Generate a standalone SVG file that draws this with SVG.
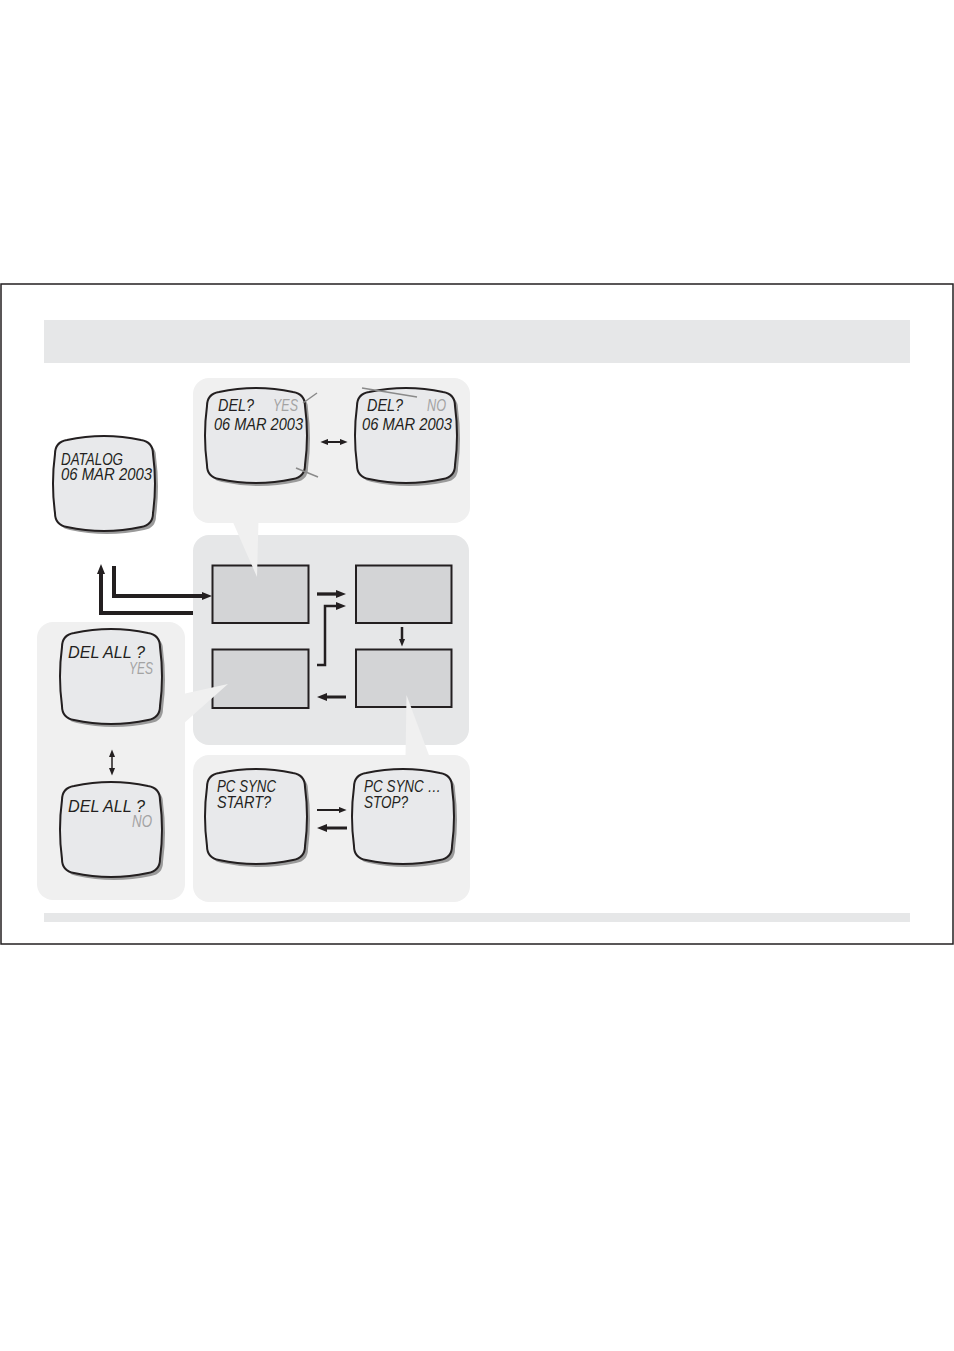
<svg xmlns="http://www.w3.org/2000/svg" xmlns:xlink="http://www.w3.org/1999/xlink" width="954" height="1351" viewBox="0 0 954 1351">
<style>
.frame{fill:none;stroke:#231f20;stroke-width:1.5}
.bar{fill:#e6e7e8}
.pl{fill:#f0f0f0}
.pm{fill:#e6e7e8}
.box{fill:#d3d4d6;stroke:#231f20;stroke-width:2}
.scr{fill:#e8e9eb;stroke:#231f20;stroke-width:2}
.shd{fill:#9a9a9a}
.t{font-family:"Liberation Sans",Arial,sans-serif;font-style:italic;font-size:16px;fill:#231f20}
.g{fill:#a3a3a3}
.mark{stroke:#8a8a8a;stroke-width:1.5;fill:none}
.c{fill:none;stroke:#231f20}
</style>
<defs>
<path id="screen" d="M14,4 Q51,-4 88,4 Q100,6 100,18 Q104,47.5 100,77 Q100,89 88,91 Q51,99 14,91 Q2,89 2,77 Q-2,47.5 2,18 Q2,6 14,4 Z"/>
<marker id="ah" viewBox="0 0 10 8" refX="3" refY="4" markerWidth="10" markerHeight="8" markerUnits="userSpaceOnUse" orient="auto-start-reverse"><path d="M0,0 L10,4 L0,8 Z" fill="#231f20"/></marker>
<marker id="as" viewBox="0 0 10 8" refX="3" refY="4" markerWidth="8" markerHeight="7" markerUnits="userSpaceOnUse" orient="auto-start-reverse"><path d="M0,0 L10,4 L0,8 Z" fill="#231f20"/></marker>
</defs>
<rect width="954" height="1351" fill="#fff"/>
<rect class="frame" x="1" y="284" width="952" height="660"/>
<rect class="bar" x="44" y="320" width="866" height="43"/>
<rect class="bar" x="44" y="913" width="866" height="9"/>

<g id="panels">
<rect class="pl" x="193" y="378" width="277" height="145" rx="16"/>
<rect class="pm" x="193" y="535" width="276" height="210" rx="16"/>
<rect class="pl" x="37" y="622" width="148" height="278" rx="16"/>
<rect class="pl" x="193" y="755" width="277" height="147" rx="16"/>
</g>

<g id="boxes">
<rect id="box1" class="box" x="212.5" y="565.5" width="96" height="57.5"/>
<rect id="box2" class="box" x="356" y="565.5" width="95.5" height="57.5"/>
<rect id="box3" class="box" x="212.5" y="649.5" width="96" height="58.5"/>
<rect id="box4" class="box" x="356" y="649.5" width="95.5" height="57.5"/>
</g>

<g id="pointers">
<polygon class="pl" points="232,520 258.5,520 257,577"/>
<polygon class="pl" points="228,684 183,694 183,724"/>
<polygon class="pl" points="406.5,695 405.5,758 430,758"/>
</g>

<g id="connectors">
<path class="c" stroke-width="4" d="M193,613 H101 V571" marker-end="url(#ah)"/>
<path class="c" stroke-width="4" d="M114,566 V596 H205" marker-end="url(#ah)"/>
<path class="c" stroke-width="3.3" d="M317,594 H339" marker-end="url(#ah)"/>
<path class="c" stroke-width="2.5" d="M317,665 H325 V606 H339" marker-end="url(#ah)"/>
<path class="c" stroke-width="2.5" d="M402,627 V641" marker-end="url(#as)"/>
<path class="c" stroke-width="3" d="M346,697 H324" marker-end="url(#ah)"/>
<path class="c" stroke-width="2" d="M326,442 H342" marker-start="url(#as)" marker-end="url(#as)"/>
<path class="c" stroke-width="1.5" d="M112,755 V770" marker-start="url(#as)" marker-end="url(#as)"/>
<path class="c" stroke-width="2" d="M317,810 H341" marker-end="url(#as)"/>
<path class="c" stroke-width="3" d="M347,828 H324" marker-end="url(#ah)"/>
</g>

<g id="datalog">
<use xlink:href="#screen" class="shd" x="56" y="439"/>
<use xlink:href="#screen" class="scr" x="53" y="436"/>
<text class="t" x="61" y="465" font-size="15" textLength="62" lengthAdjust="spacingAndGlyphs">DATALOG</text>
<text class="t" x="61" y="479.5" font-size="15" textLength="91" lengthAdjust="spacingAndGlyphs">06 MAR 2003</text>
</g>

<g id="del-yes">
<use xlink:href="#screen" class="shd" x="208" y="391"/>
<use xlink:href="#screen" class="scr" x="205" y="388"/>
<text class="t" x="218" y="411" textLength="36" lengthAdjust="spacingAndGlyphs">DEL?</text>
<text class="t g" x="273" y="411" textLength="25" lengthAdjust="spacingAndGlyphs">YES</text>
<text class="t" x="214" y="430" textLength="89" lengthAdjust="spacingAndGlyphs">06 MAR 2003</text>
<line class="mark" x1="303" y1="403" x2="317" y2="393"/>
<line class="mark" x1="296" y1="468" x2="318" y2="477"/>
</g>

<g id="del-no">
<use xlink:href="#screen" class="shd" x="358" y="391"/>
<use xlink:href="#screen" class="scr" x="355" y="388"/>
<text class="t" x="367" y="411" textLength="36" lengthAdjust="spacingAndGlyphs">DEL?</text>
<text class="t g" x="427" y="411" textLength="19" lengthAdjust="spacingAndGlyphs">NO</text>
<text class="t" x="362" y="430" textLength="90" lengthAdjust="spacingAndGlyphs">06 MAR 2003</text>
<line class="mark" x1="362" y1="388" x2="417" y2="397"/>
</g>

<g id="delall-yes">
<use xlink:href="#screen" class="shd" x="63" y="632"/>
<use xlink:href="#screen" class="scr" x="60" y="629"/>
<text class="t" x="68" y="658" textLength="77" lengthAdjust="spacingAndGlyphs">DEL ALL ?</text>
<text class="t g" x="129" y="674" textLength="24" lengthAdjust="spacingAndGlyphs">YES</text>
</g>

<g id="delall-no">
<use xlink:href="#screen" class="shd" x="63" y="785"/>
<use xlink:href="#screen" class="scr" x="60" y="782"/>
<text class="t" x="68" y="812" textLength="77" lengthAdjust="spacingAndGlyphs">DEL ALL ?</text>
<text class="t g" x="132" y="827" textLength="20" lengthAdjust="spacingAndGlyphs">NO</text>
</g>

<g id="pcsync-start">
<use xlink:href="#screen" class="shd" x="208" y="772"/>
<use xlink:href="#screen" class="scr" x="205" y="769"/>
<text class="t" x="217" y="792" textLength="59" lengthAdjust="spacingAndGlyphs">PC SYNC</text>
<text class="t" x="217" y="808" textLength="54" lengthAdjust="spacingAndGlyphs">START?</text>
</g>

<g id="pcsync-stop">
<use xlink:href="#screen" class="shd" x="355" y="772"/>
<use xlink:href="#screen" class="scr" x="352" y="769"/>
<text class="t" x="364" y="792" textLength="77" lengthAdjust="spacingAndGlyphs">PC SYNC …</text>
<text class="t" x="364" y="808" textLength="44" lengthAdjust="spacingAndGlyphs">STOP?</text>
</g>
</svg>
